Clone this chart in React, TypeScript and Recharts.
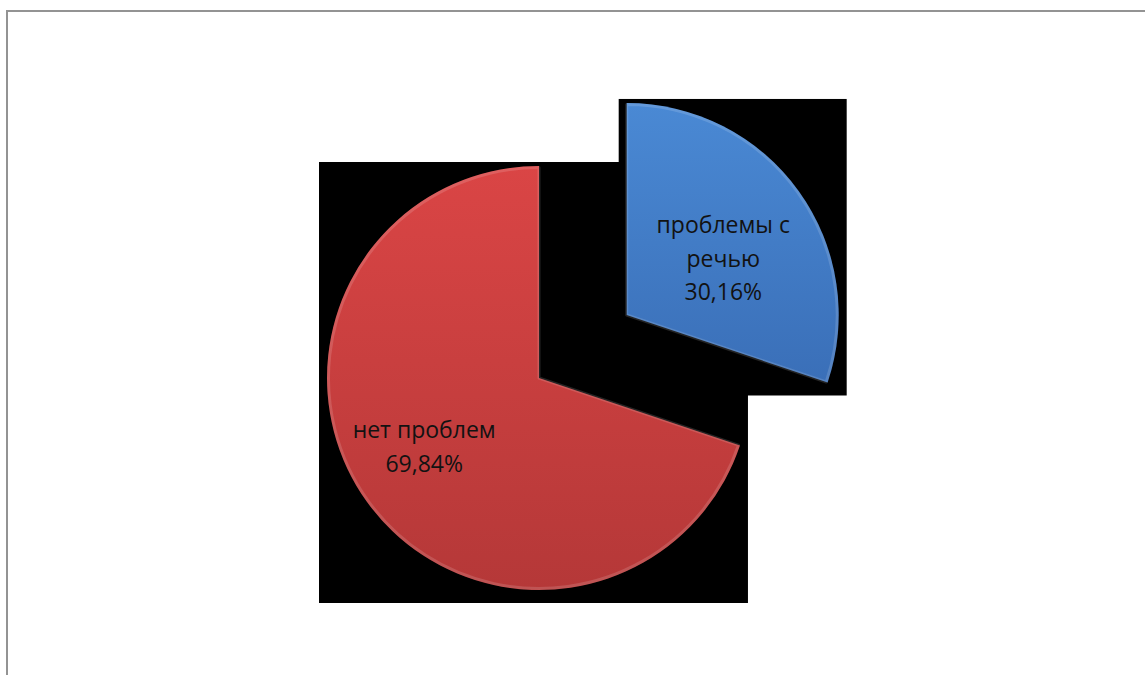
import React from 'react';
import { PieChart, Pie, Sector } from 'recharts';

// ---- data ----
const categories: string[] = ['проблемы с речью', 'нет проблем'];
const values: number[] = [30.16, 69.84];
const explodedSlices: boolean[] = [true, false];

// ---- styles ----
const sliceColors = [
  { top: '#4A89D4', bottom: '#3A6FB8', id: 'gBlue' },
  { top: '#DA4545', bottom: '#B53838', id: 'gRed' },
];
const FONT = '"Open Sans", "Noto Sans", sans-serif';
const RADIUS = 212;
const EXPLODE = 108;
const RAD = Math.PI / 180;

const data = categories.map((name, i) => ({ name, value: values[i], exploded: explodedSlices[i] }));

function wrap(text: string, max: number): string[] {
  const words = text.split(' ');
  const lines: string[] = [];
  let cur = '';
  for (const w of words) {
    const cand = cur ? cur + ' ' + w : w;
    if (cand.length <= max || !cur) cur = cand;
    else {
      lines.push(cur);
      cur = w;
    }
  }
  if (cur) lines.push(cur);
  return lines;
}

function pt(cx: number, cy: number, r: number, a: number) {
  return { x: cx + r * Math.cos(-a * RAD), y: cy + r * Math.sin(-a * RAD) };
}

function geom(p: any) {
  const mid = p.midAngle;
  const off = p.payload?.exploded || p.exploded ? EXPLODE : 0;
  const o = pt(p.cx, p.cy, off, mid);
  return { cx: o.x, cy: o.y };
}

function bbox(cx: number, cy: number, r: number, s: number, e: number) {
  const lo = Math.min(s, e);
  const hi = Math.max(s, e);
  const pts = [{ x: cx, y: cy }, pt(cx, cy, r, s), pt(cx, cy, r, e)];
  for (let k = -720; k <= 720; k += 90) {
    if (k > lo && k < hi) pts.push(pt(cx, cy, r, k));
  }
  const xs = pts.map((q) => q.x);
  const ys = pts.map((q) => q.y);
  return { x0: Math.min(...xs), x1: Math.max(...xs), y0: Math.min(...ys), y1: Math.max(...ys) };
}

const ShadowBox = (p: any) => {
  const g = geom(p);
  const b = bbox(g.cx, g.cy, p.outerRadius, p.startAngle, p.endAngle);
  return (
    <rect
      key={`box-${p.index}`}
      x={b.x0 - 8}
      y={b.y0 - 4}
      width={b.x1 - b.x0 + 16}
      height={b.y1 - b.y0 + 17}
      fill="#000"
    />
  );
};

const SliceWithLabel = (p: any) => {
  const g = geom(p);
  const col = sliceColors[p.index];
  const exploded = p.payload?.exploded;
  const d = p.outerRadius * (exploded ? 0.53 : 0.63);
  const c = pt(g.cx, g.cy, d, p.midAngle - 5);
  const pct = (p.value ?? p.payload.value).toFixed(2).replace('.', ',') + '%';
  const lines = [...wrap(p.payload.name, 11), pct];
  const lh = 33.5;
  return (
    <g key={`sl-${p.index}`}>
      <Sector
        cx={g.cx}
        cy={g.cy}
        innerRadius={0}
        outerRadius={p.outerRadius}
        startAngle={p.startAngle}
        endAngle={p.endAngle}
        fill={`url(#${col.id})`}
        stroke="none"
      />
      <Sector
        cx={g.cx}
        cy={g.cy}
        innerRadius={0}
        outerRadius={p.outerRadius - 1.5}
        startAngle={p.startAngle}
        endAngle={p.endAngle}
        fill="none"
        stroke="rgba(255,255,255,0.14)"
        strokeWidth={3}
        strokeLinejoin="round"
      />
      <text
        x={c.x}
        y={c.y}
        textAnchor="middle"
        fontFamily={FONT}
        fontSize={23}
        fill="#121212"
      >
        {lines.map((ln, i) => (
          <tspan key={i} x={c.x} y={c.y + (i - (lines.length - 1) / 2) * lh} dominantBaseline="central">
            {ln}
          </tspan>
        ))}
      </text>
    </g>
  );
};

export default function App() {
  return (
    <div style={{ position: 'fixed', left: 0, top: 0, width: 1145, height: 675, background: '#fff', overflow: 'hidden' }}>
      <div
        style={{
          position: 'absolute',
          left: 6,
          top: 10,
          width: 1200,
          height: 800,
          borderLeft: '2px solid #939393',
          borderTop: '2px solid #939393',
          boxSizing: 'border-box',
        }}
      />
      <div style={{ position: 'absolute', left: 0, top: 0 }}>
        <PieChart width={1145} height={675} margin={{ top: 0, right: 0, bottom: 0, left: 0 }}>
          <defs>
            {sliceColors.map((c) => (
              <linearGradient key={c.id} id={c.id} x1="0" y1="0" x2="0" y2="1">
                <stop offset="0%" stopColor={c.top} />
                <stop offset="100%" stopColor={c.bottom} />
              </linearGradient>
            ))}
          </defs>
          <Pie
            data={data}
            dataKey="value"
            nameKey="name"
            cx={539}
            cy={378}
            outerRadius={RADIUS}
            startAngle={90}
            endAngle={-270}
            fill="none"
            stroke="none"
            label={ShadowBox}
            labelLine={false}
            isAnimationActive={false}
          />
          <Pie
            data={data}
            dataKey="value"
            nameKey="name"
            cx={539}
            cy={378}
            outerRadius={RADIUS}
            startAngle={90}
            endAngle={-270}
            fill="none"
            stroke="none"
            label={SliceWithLabel}
            labelLine={false}
            isAnimationActive={false}
          />
        </PieChart>
      </div>
    </div>
  );
}
